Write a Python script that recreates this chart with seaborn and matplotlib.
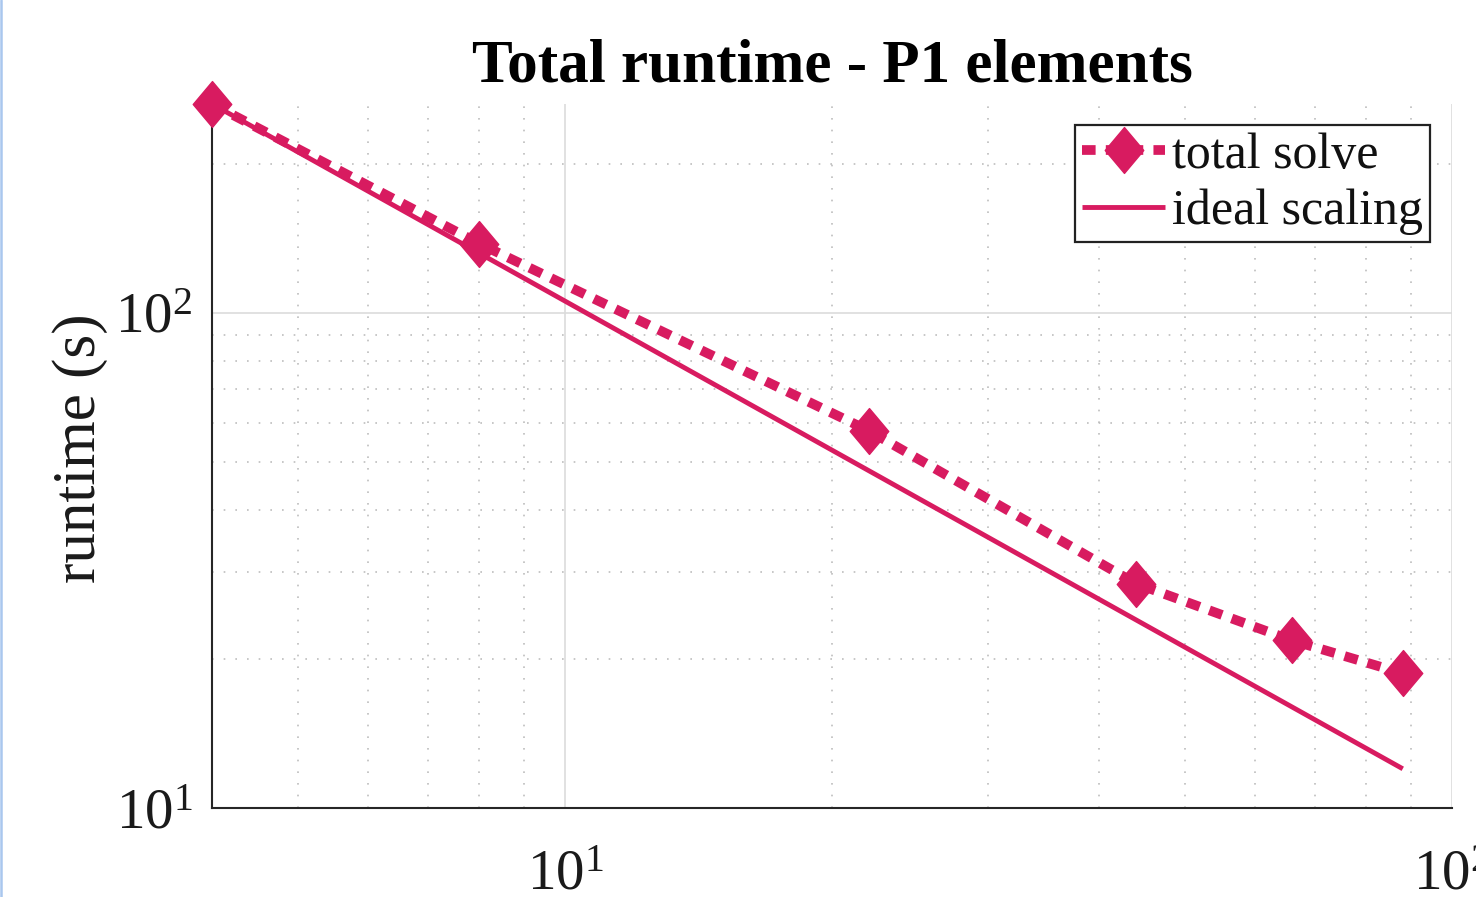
import matplotlib
matplotlib.use("Agg")
import matplotlib.pyplot as plt
import seaborn as sns
import numpy as np
from matplotlib.path import Path
from matplotlib.ticker import LogLocator, NullFormatter
from matplotlib.lines import Line2D

# ---- data ----
processors = [4, 8, 22, 44, 66, 88]
total_solve = [264, 138, 57.8, 28.4, 21.8, 18.7]
ideal_scaling = [264, 132, 48, 24, 16, 12]
title = "Total runtime - P1 elements"
ylabel = "runtime (s)"
labels = ["total solve", "ideal scaling"]

color = "#D81B60"

sns.set_theme(style="white")
plt.rcParams["font.family"] = ["Liberation Serif", "DejaVu Serif"]
plt.rcParams["mathtext.fontset"] = "custom"
plt.rcParams["mathtext.rm"] = "Liberation Serif"
plt.rcParams["mathtext.it"] = "Liberation Serif:italic"
plt.rcParams["mathtext.bf"] = "Liberation Serif:bold"

fig = plt.figure(figsize=(14.76, 8.97), dpi=100)
ax = fig.add_axes([212 / 1476, 1 - 808 / 897, (1452 - 212) / 1476, (808 - 104) / 897])

diamond = Path([(0, 1), (0.84, 0), (0, -1), (-0.84, 0), (0, 1)],
               [Path.MOVETO, Path.LINETO, Path.LINETO, Path.LINETO, Path.CLOSEPOLY])

sns.lineplot(x=processors, y=total_solve, ax=ax, color=color, linewidth=7,
             linestyle=(0, (1.4, 1.05)), marker=diamond, markersize=33,
             markeredgecolor=color, markerfacecolor=color, markeredgewidth=1,
             label=labels[0], zorder=3, clip_on=False)
sns.lineplot(x=processors, y=ideal_scaling, ax=ax, color=color, linewidth=3.5,
             label=labels[1], zorder=2, clip_on=False)
for ln in ax.get_lines():
    ln.set_dash_capstyle("butt")
    ln.set_solid_capstyle("butt")

ax.set_xscale("log")
ax.set_yscale("log")
ax.set_xlim(4, 100)
ax.set_ylim(10, 264)

ax.xaxis.set_major_locator(LogLocator(base=10, numticks=10))
ax.xaxis.set_minor_locator(LogLocator(base=10, subs=np.arange(2, 10), numticks=20))
ax.yaxis.set_major_locator(LogLocator(base=10, numticks=10))
ax.yaxis.set_minor_locator(LogLocator(base=10, subs=np.arange(2, 10), numticks=20))
ax.xaxis.set_minor_formatter(NullFormatter())
ax.yaxis.set_minor_formatter(NullFormatter())

ax.grid(True, which="major", color="#dcdcdc", linewidth=1.2, linestyle="-")
ax.grid(True, which="minor", color="#bdbdbd", linewidth=1.2, linestyle=(0, (1, 6)))
ax.set_axisbelow(True)

for s in ["top", "right"]:
    ax.spines[s].set_visible(False)
for s in ["left", "bottom"]:
    ax.spines[s].set_color("#262626")
    ax.spines[s].set_linewidth(1.5)

ax.tick_params(which="major", direction="in", length=9, width=1.5, color="#262626",
               labelsize=41, labelcolor="#1a1a1a")
ax.tick_params(axis="x", which="major", pad=30)
ax.tick_params(axis="y", which="major", pad=14)
ax.tick_params(which="minor", direction="in", length=5, width=1.3, color="#262626")

ax.set_title(title, fontsize=44, fontweight="bold", pad=16, color="black")
ax.set_ylabel(ylabel, fontsize=44, labelpad=0, color="#1a1a1a")
ax.yaxis.set_label_coords(108 / 1476, 0.5, transform=fig.transFigure)
ax.set_xlabel("")

leg = ax.legend(loc="upper right", bbox_to_anchor=(1430 / 1476, 1 - 125 / 897),
                bbox_transform=fig.transFigure, fontsize=36, frameon=True, fancybox=False,
                handlelength=1.66, handletextpad=0.14, borderpad=0.14, labelspacing=0.2,
                borderaxespad=0)
leg.get_frame().set_edgecolor("#222222")
leg.get_frame().set_linewidth(1.6)
leg.get_frame().set_alpha(1)
for t in leg.get_texts():
    t.set_color("#111111")

fig.add_artist(Line2D([1.2 / 1476, 1.2 / 1476], [0, 1], transform=fig.transFigure,
                      color="#a9c7ee", linewidth=1.8))

fig.savefig("out.png", dpi=100, facecolor="white")
